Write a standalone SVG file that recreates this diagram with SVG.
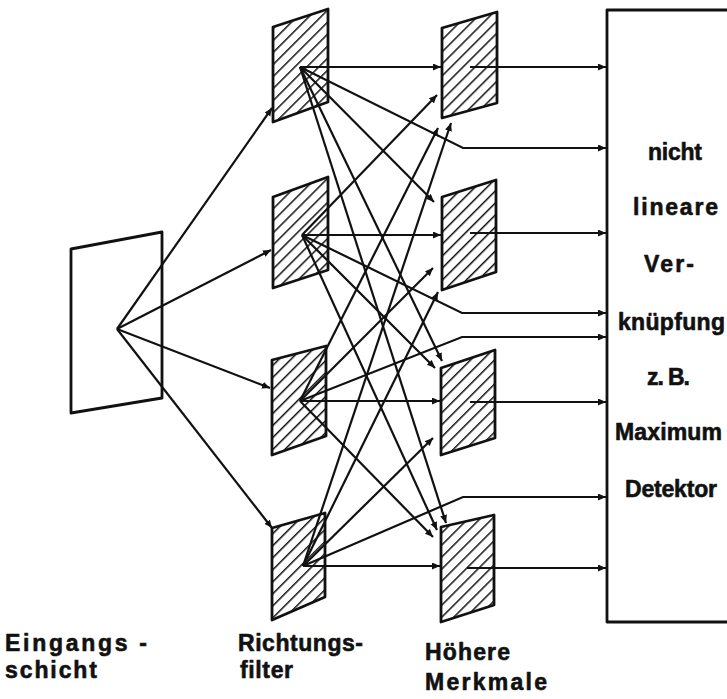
<svg xmlns="http://www.w3.org/2000/svg" width="727" height="699" viewBox="0 0 727 699">
  <style>
    .frame { fill: #fff; stroke: #111; stroke-width: 2.8; stroke-linejoin: round; }
    .cell { fill: url(#hatch); stroke: #111; stroke-width: 2.8; stroke-linejoin: round; }
    .wire { fill: none; stroke: #111; stroke-width: 2.2; marker-end: url(#tip); }
    .lbl { font-family: "Liberation Sans", Arial, sans-serif; font-weight: bold; font-size: 23px; fill: #111; stroke: #111; stroke-width: 0.6; stroke-linejoin: round; }
  </style>
  <defs>
    <pattern id="hatch" patternUnits="userSpaceOnUse" width="8.5" height="8.5" patternTransform="rotate(45)">
      <rect width="8.5" height="8.5" fill="#fff"/>
      <line x1="0" y1="0" x2="0" y2="8.5" stroke="#111" stroke-width="3"/>
    </pattern>
    <marker id="tip" markerUnits="userSpaceOnUse" markerWidth="9" markerHeight="8" refX="8" refY="3.5" orient="auto">
      <path d="M0,0 L8,3.5 L0,7 z" fill="#111"/>
    </marker>
  </defs>
  <rect width="727" height="699" fill="#fff"/>

  <!-- input layer -->
  <g id="eingangsschicht">
    <polygon class="frame" points="71,249 162,232 162,398 71,413"/>
  </g>

  <!-- direction filters -->
  <g id="filter1"><polygon class="cell" points="273,27 328,9 328,102 273,122"/></g>
  <g id="filter2"><polygon class="cell" points="273,197 328,177 328,270 273,288"/></g>
  <g id="filter3"><polygon class="cell" points="272,360 326,346 326,436 272,455"/></g>
  <g id="filter4"><polygon class="cell" points="272,528 325,513 325,597 272,620"/></g>

  <!-- higher-order features -->
  <g id="merkmal1"><polygon class="cell" points="442,28 497,12 497,103 442,118"/></g>
  <g id="merkmal2"><polygon class="cell" points="442,197 496,180 496,272 442,290"/></g>
  <g id="merkmal3"><polygon class="cell" points="441,368 495,350 495,438 441,455"/></g>
  <g id="merkmal4"><polygon class="cell" points="441,527 494,515 494,605 441,622"/></g>

  <!-- nonlinear combination stage -->
  <g id="verknuepfung">
    <polyline class="frame" points="740,10 607,10 607,622 740,622"/>
    <text class="lbl" x="648" y="160" textLength="54" lengthAdjust="spacing">nicht</text>
    <text class="lbl" x="633" y="215" textLength="85" lengthAdjust="spacing">lineare</text>
    <text class="lbl" x="644" y="272" textLength="50" lengthAdjust="spacing">Ver-</text>
    <text class="lbl" x="618" y="330" textLength="107" lengthAdjust="spacing">knüpfung</text>
    <text class="lbl" x="647" y="385" textLength="43" lengthAdjust="spacing">z. B.</text>
    <text class="lbl" x="615" y="440" textLength="107" lengthAdjust="spacing">Maximum</text>
    <text class="lbl" x="625" y="497" textLength="92" lengthAdjust="spacing">Detektor</text>
  </g>

  <g id="connectors">
    <!-- input layer to filters -->
    <line class="wire" x1="117" y1="329" x2="272" y2="108"/>
    <line class="wire" x1="117" y1="329" x2="271" y2="250"/>
    <line class="wire" x1="117" y1="329" x2="270" y2="388"/>
    <line class="wire" x1="117" y1="329" x2="272" y2="528"/>

    <!-- filters to features: straight across -->
    <line class="wire" x1="300" y1="67" x2="441" y2="67"/>
    <line class="wire" x1="302" y1="235" x2="441" y2="235"/>
    <line class="wire" x1="300" y1="401" x2="440" y2="401"/>
    <line class="wire" x1="303" y1="566" x2="440" y2="566"/>

    <!-- filters to features: crossing -->
    <line class="wire" x1="300" y1="67" x2="434" y2="202"/>
    <line class="wire" x1="300" y1="67" x2="442" y2="361"/>
    <line class="wire" x1="300" y1="67" x2="446" y2="523"/>
    <line class="wire" x1="302" y1="235" x2="437" y2="95"/>
    <line class="wire" x1="302" y1="235" x2="435" y2="368"/>
    <line class="wire" x1="302" y1="235" x2="437" y2="530"/>
    <line class="wire" x1="300" y1="401" x2="438" y2="128"/>
    <line class="wire" x1="300" y1="401" x2="433" y2="268"/>
    <line class="wire" x1="300" y1="401" x2="433" y2="537"/>
    <line class="wire" x1="303" y1="566" x2="451" y2="123"/>
    <line class="wire" x1="303" y1="566" x2="438" y2="292"/>
    <line class="wire" x1="303" y1="566" x2="433" y2="438"/>

    <!-- filters directly to combination stage -->
    <polyline class="wire" points="300,67 463,148 606,148"/>
    <polyline class="wire" points="302,235 462,313 606,313"/>
    <polyline class="wire" points="300,401 462,337 606,337"/>
    <polyline class="wire" points="303,566 463,497 606,497"/>

    <!-- features to combination stage -->
    <line class="wire" x1="470" y1="67" x2="606" y2="67"/>
    <line class="wire" x1="470" y1="233" x2="606" y2="233"/>
    <line class="wire" x1="470" y1="402" x2="606" y2="402"/>
    <line class="wire" x1="467" y1="568" x2="606" y2="568"/>
  </g>

  <!-- column captions -->
  <g id="beschriftung">
    <text class="lbl" x="5" y="651" textLength="142" lengthAdjust="spacing">Eingangs -</text>
    <text class="lbl" x="5" y="678" textLength="92" lengthAdjust="spacing">schicht</text>
    <text class="lbl" x="238" y="651" textLength="125" lengthAdjust="spacing">Richtungs-</text>
    <text class="lbl" x="240" y="678" textLength="53" lengthAdjust="spacing">filter</text>
    <text class="lbl" x="425" y="660" textLength="85" lengthAdjust="spacing">Höhere</text>
    <text class="lbl" x="425" y="690" textLength="122" lengthAdjust="spacing">Merkmale</text>
  </g>
</svg>
